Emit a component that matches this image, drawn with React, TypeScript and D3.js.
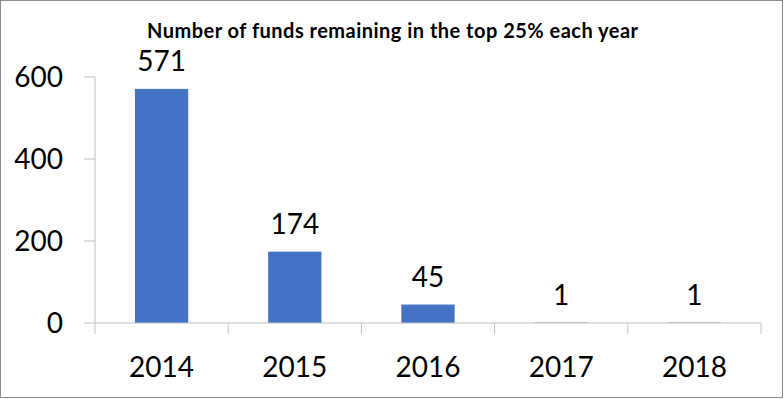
import React from "react";
import * as d3 from "d3";

const categories = ["2014", "2015", "2016", "2017", "2018"];
const values = [571, 174, 45, 1, 1];
const yTicks = [0, 200, 400, 600];
const title = "Number of funds remaining in the top 25% each year";

export default function App() {
  const W = 784, H = 399;
  const x = d3.scaleBand<string>().domain(categories).range([95, 761]).paddingInner(0.6).paddingOuter(0.3);
  const xb = d3.scaleBand<string>().domain(categories).range([95, 761]);
  const y = d3.scaleLinear().domain([0, 600]).range([323, 77]);
  const font = "Lato, 'Open Sans', sans-serif";
  const axis = "#bfbfbf";
  return (
    <svg width={W} height={H} style={{ position: "absolute", left: 0, top: 0 }}>
      <rect x={0.5} y={0.5} width={W - 2} height={H - 2} fill="#fff" stroke="#8c8c8c" />
      <text x={147} y={38} textLength={491} lengthAdjust="spacing" fontFamily={font} fontWeight="bold" fontSize={20} fill="#000">{title}</text>
      <line x1={95} x2={95} y1={y(600)} y2={y(0)} stroke={axis} />
      {yTicks.map(t => (
        <g key={t}>
          <line x1={84} x2={95} y1={y(t)} y2={y(t)} stroke={axis} />
          <text x={63} y={y(t)} dy="0.36em" textAnchor="end" fontFamily={font} fontSize={28} fill="#000">{t}</text>
        </g>
      ))}
      {categories.map((c, i) => (
        <g key={c}>
          <rect x={x(c)} y={y(values[i])} width={x.bandwidth()} height={y(0) - y(values[i])} fill="#4472C4" />
          <text x={(x(c) as number) + x.bandwidth() / 2} y={y(values[i]) - 18} textAnchor="middle" fontFamily={font} fontSize={28} fill="#000">{values[i]}</text>
          <text x={(xb(c) as number) + xb.bandwidth() / 2} y={377} textAnchor="middle" fontFamily={font} fontSize={28} fill="#000">{c}</text>
        </g>
      ))}
      <line x1={95} x2={761} y1={y(0)} y2={y(0)} stroke={axis} />
      {[...categories.map(c => xb(c) as number), 761].map((v, i) => (
        <line key={i} x1={v} x2={v} y1={y(0)} y2={334} stroke={axis} />
      ))}
    </svg>
  );
}
